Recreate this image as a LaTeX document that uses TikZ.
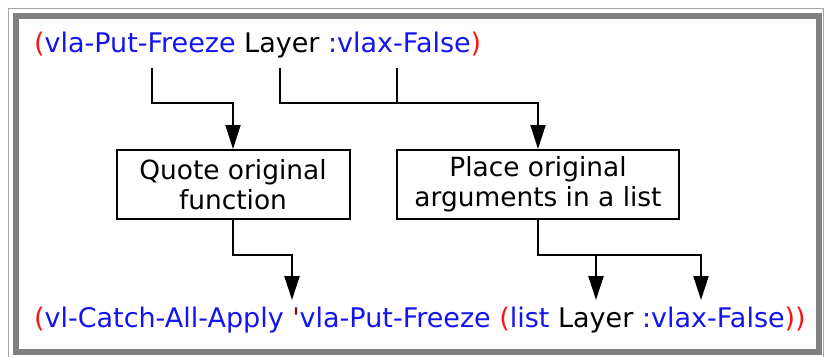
\documentclass[tikz,border=0pt]{standalone}
\usepackage{fontspec}
\setmainfont{DejaVu Sans}
\usetikzlibrary{arrows.meta}

\definecolor{parenred}{RGB}{250,20,20}
\definecolor{symblue}{RGB}{20,20,240}
\definecolor{quotered}{RGB}{150,0,0}
\definecolor{framegray}{RGB}{128,128,128}

\tikzset{
  code/.style={anchor=base west, inner sep=0pt, font=\fontsize{27}{30}\selectfont},
  stepbox/.style={draw, line width=2pt, minimum height=69pt, inner sep=0pt,
    align=center, font=\fontsize{26.4}{30}\selectfont},
}

\begin{document}
\begin{tikzpicture}[x=1pt, y=-1pt, line width=2pt, >={Triangle[length=24pt,width=15pt]}]
\useasboundingbox (0,0) rectangle (827,356);
\fill[white] (0,0) rectangle (827,356);
% frame
\draw[framegray!70, line width=1pt] (8.5,8.5) rectangle (823.5,362);
\draw[framegray, line width=6pt] (16,16) rectangle (819,352);

% the two calls
\node[code] (orig) at (33,52) {{\color{parenred}(}{\color{symblue}vla-Put-Freeze} Layer {\color{symblue}:vlax-False}{\color{parenred})}};
\node[code] (wrapped) at (33,327) {{\color{parenred}(}{\color{symblue}vl-Catch-All-Apply} {\color{quotered}\textquotesingle}{\color{symblue}vla-Put-Freeze} {\color{parenred}(}{\color{symblue}list} Layer {\color{symblue}:vlax-False}{\color{parenred}))}};

% steps
\node[stepbox, minimum width=233pt] (quote) at (233,184.5) {Quote original\\function};
\node[stepbox, minimum width=282pt] (place) at (538,184.5) {Place original\\arguments in a list};

% where the lines start and end
\coordinate (fn) at (152,68);
\coordinate (layer) at (280,68);
\coordinate (flag) at (397,68);
\coordinate (fntip) at (292,300);
\coordinate (layertip) at (596,300);
\coordinate (flagtip) at (701,300);

\draw[->] (fn) -- ++(0,35) -| (quote.north);
\draw[->] (layer) -- ++(0,35) -| (place.north);
\draw (flag) -- ++(0,35);
\draw[->] (quote.south) -- ++(0,35) -| (fntip);
\draw[->] (place.south) -- ++(0,35) coordinate (fork) -| (flagtip);
\draw[->] (fork -| layertip) -- (layertip);
\end{tikzpicture}
\end{document}
